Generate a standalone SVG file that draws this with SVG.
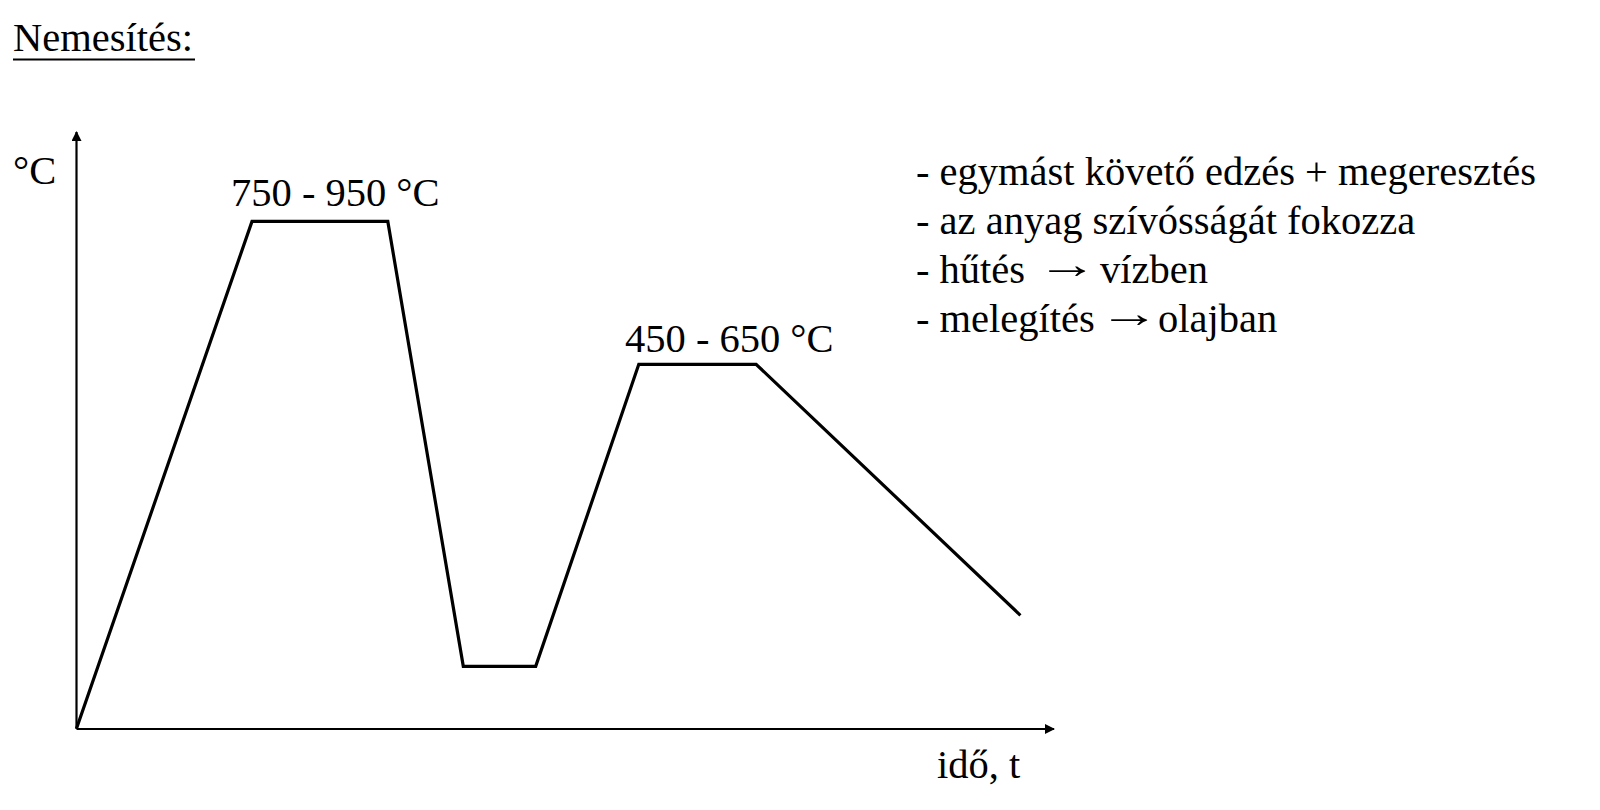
<svg xmlns="http://www.w3.org/2000/svg" width="1600" height="810" viewBox="0 0 1600 810">
<defs>
<style>
text{font-family:"Liberation Serif","Times New Roman",serif;font-size:40.5px;fill:#000}
.axis{stroke:#000;stroke-width:2.2;fill:none}
.curve{stroke:#000;stroke-width:3.2;fill:none;stroke-linejoin:miter}
</style>
<marker id="ah" viewBox="0 0 10 10" refX="9" refY="5" markerWidth="10" markerHeight="10" markerUnits="userSpaceOnUse" orient="auto">
<path d="M0,0 L10,5 L0,10 Z" fill="#000"/>
</marker>
</defs>
<rect width="1600" height="810" fill="#fff"/>
<g id="title">
<text x="13" y="51">Nemesítés:</text>
<line x1="13" y1="59.5" x2="195" y2="59.5" stroke="#000" stroke-width="2"/>
</g>
<g id="connectors">
<line class="axis" x1="76.5" y1="729" x2="76.5" y2="132" marker-end="url(#ah)"/>
<line class="axis" x1="76.5" y1="729" x2="1054" y2="729" marker-end="url(#ah)"/>
<polyline class="curve" points="76.5,728.6 252,221.4 387.8,221.4 463.3,666.3 535.7,666.3 638.8,364.3 756.1,364.3 1020.4,615.3"/>
</g>
<g id="ylabel"><text x="13" y="184">°C</text></g>
<g id="xlabel"><text x="937" y="778">idő, t</text></g>
<g id="label1"><text x="231" y="206">750 - 950 °C</text></g>
<g id="label2"><text x="625" y="352">450 - 650 °C</text></g>
<g id="notes">
<text x="916" y="185">- egymást követő edzés + megeresztés</text>
<text x="916" y="234">- az anyag szívósságát fokozza</text>
<text x="916" y="283">- hűtés</text>
<text transform="translate(1037,277.5) scale(1.5,1)" x="0" y="0">→</text>
<text x="1100" y="283">vízben</text>
<text x="916" y="332">- melegítés</text>
<text transform="translate(1099,326.5) scale(1.5,1)" x="0" y="0">→</text>
<text x="1158" y="332">olajban</text>
</g>
</svg>
